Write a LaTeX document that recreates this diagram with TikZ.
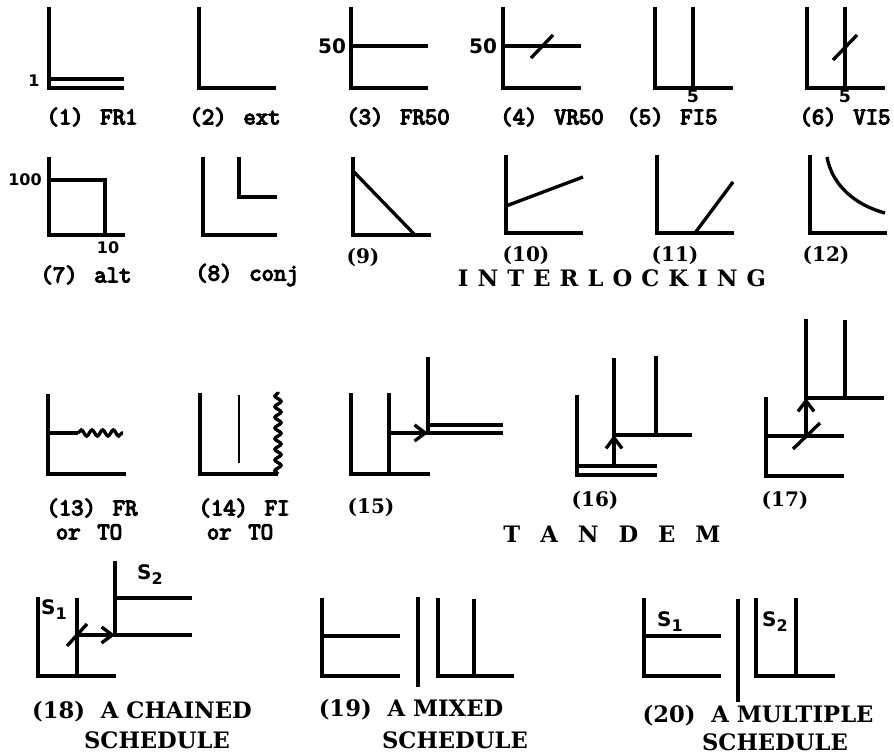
\documentclass[tikz,border=0pt]{standalone}
\usepackage{fontspec}
\setmainfont{DejaVu Serif}
\newfontfamily\twfont{Latin Modern Mono}[FakeBold=5]
\newfontfamily\numfont{DejaVu Sans}
\newfontfamily\ilfont{DejaVu Serif}[LetterSpace=40]
\usetikzlibrary{arrows.meta,decorations.pathmorphing}

\newcommand{\schsub}[1]{S\raisebox{-0.45ex}{\fontsize{12}{12}\selectfont #1}}
\newcommand{\twgap}{\hspace{0.7em}}

\begin{document}
\begin{tikzpicture}[x=0.75pt,y=-0.75pt,
    ax/.style={line width=2.5pt},
    arr/.style={-{Straight Barb[length=8pt,width=12pt]}},
    wavy/.style={decorate,decoration={snake,amplitude=2.3pt,segment length=8pt}},
    twlab/.style={inner sep=0pt,font=\twfont\fontsize{18}{20}\selectfont},
    sflab/.style={inner sep=0pt,font=\bfseries\fontsize{15}{17}\selectfont},
    caplab/.style={inner sep=0pt,font=\bfseries\fontsize{17}{20}\selectfont},
    numlab/.style={inner sep=0pt,font=\numfont\bfseries\fontsize{15}{15}\selectfont},
    smallnum/.style={inner sep=0pt,font=\numfont\bfseries\fontsize{12}{12}\selectfont}]
    \useasboundingbox (0,0) rectangle (894,755);

    % (1) FR1
    \draw[ax] (49,7) |- (124,88);
    \draw[ax] (49,79) -- (124,79);
    \node[smallnum] (t1) at (34,81) {1};
    \node[twlab] (l1) at (92,117) {(1)\twgap FR1};

    % (2) ext
    \draw[ax] (199,7) |- (276,88);
    \node[twlab] (l2) at (235,117) {(2)\twgap ext};

    % (3) FR50
    \draw[ax] (351,7) |- (428,88);
    \draw[ax] (351,46) -- (428,46);
    \node[numlab] (t3) at (332,46) {50};
    \node[twlab] (l3) at (398,117) {(3)\twgap FR50};

    % (4) VR50
    \draw[ax] (503,7) |- (581,88);
    \draw[ax] (503,46) -- (581,46);
    \draw[ax] (531,58) -- (553,35);
    \node[numlab] (t4) at (483,46) {50};
    \node[twlab] (l4) at (552,117) {(4)\twgap VR50};

    % (5) FI5
    \draw[ax] (655,7) |- (733,88);
    \draw[ax] (693,7) -- (693,88);
    \node[smallnum,font=\numfont\bfseries\fontsize{13}{13}\selectfont] (t5) at (693,96) {5};
    \node[twlab] (l5) at (672,117) {(5)\twgap FI5};

    % (6) VI5
    \draw[ax] (807,7) |- (885,88);
    \draw[ax] (845,7) -- (845,88);
    \draw[ax] (833,60) -- (857,35);
    \node[smallnum,font=\numfont\bfseries\fontsize{13}{13}\selectfont] (t6) at (845,96) {5};
    \node[twlab] (l6) at (845,117) {(6)\twgap VI5};

    % (7) alt
    \draw[ax] (49,157) |- (125,235);
    \draw[ax] (49,180) -| (105,235);
    \node[smallnum] (t7a) at (25,180) {100};
    \node[smallnum] (t7b) at (108,248) {10};
    \node[twlab] (l7) at (86,275) {(7)\twgap alt};

    % (8) conj
    \draw[ax] (203,157) |- (277,235);
    \draw[ax] (239,157) |- (277,197);
    \node[twlab] (l8) at (247,275) {(8)\twgap conj};

    % (9) - (12) interlocking
    \draw[ax] (353,157) |- (431,235);
    \draw[ax] (353,171) -- (415,235);
    \node[sflab] (l9) at (363,257) {(9)};

    \draw[ax] (506,155) |- (583,233);
    \draw[ax] (506,206) -- (583,177);
    \node[sflab] (l10) at (526,255) {(10)};

    \draw[ax] (657,155) |- (734,233);
    \draw[ax] (695,233) -- (733,182);
    \node[sflab] (l11) at (675,255) {(11)};

    \draw[ax] (810,155) |- (887,233);
    \draw[ax] (827,157) .. controls (832,185) and (855,205) .. (885,213);
    \node[sflab] (l12) at (826,255) {(12)};

    \node[caplab,font=\ilfont\bfseries\fontsize{17}{20}\selectfont] (il) at (612,278) {INTERLOCKING};

    % (13) FR or TO
    \draw[ax] (48,394) |- (126,474);
    \draw[ax] (48,433) -- (78,433);
    \draw[ax,wavy] (78,433) -- (123,433);
    \node[twlab] (l13a) at (92,508) {(13)\twgap FR};
    \node[twlab] (l13b) at (89,532) {or\twgap TO};

    % (14) FI or TO
    \draw[ax] (200,393) |- (278,474);
    \draw[line width=1.8pt] (239,395) -- (239,463);
    \draw[ax,wavy] (278,474) -- (278,392);
    \node[twlab] (l14a) at (244,508) {(14)\twgap FI};
    \node[twlab] (l14b) at (240,532) {or\twgap TO};

    % (15) - (17) tandem
    \draw[ax] (351,393) |- (430,474);
    \draw[ax] (389,393) -- (389,474);
    \coordinate (a15) at (389,433);
    \coordinate (o15) at (428,433);
    \draw[ax] (428,357) |- (503,433);
    \draw[ax] (428,425) -- (503,425);
    \draw[ax,arr] (a15) -- (o15);
    \node[sflab] (l15) at (371,507) {(15)};

    \draw[ax] (577,395) |- (657,475);
    \draw[ax] (577,466) -- (657,466);
    \coordinate (a16) at (614,466);
    \coordinate (o16) at (614,435);
    \draw[ax] (614,358) |- (692,435);
    \draw[ax] (656,356) -- (656,435);
    \draw[ax,arr] (a16) -- (o16);
    \node[sflab] (l16) at (595,500) {(16)};

    \draw[ax] (766,397) |- (844,476);
    \draw[ax] (766,436) -- (844,436);
    \draw[ax] (793,449) -- (820,423);
    \coordinate (a17) at (806,436);
    \coordinate (o17) at (806,398);
    \draw[ax] (806,319) |- (884,398);
    \draw[ax] (845,320) -- (845,398);
    \draw[ax,arr] (a17) -- (o17);
    \node[sflab] (l17) at (785,500) {(17)};

    \node[caplab] (td) at (612,534) {T\hspace{15pt}A\hspace{15pt}N\hspace{15pt}D\hspace{15pt}E\hspace{15pt}M};

    % (18) chained
    \draw[ax] (38,597) |- (116,676);
    \draw[ax] (77,598) -- (77,676);
    \draw[ax] (67,646) -- (87,624);
    \coordinate (a18) at (77,635);
    \coordinate (o18) at (115,635);
    \draw[ax] (115,561) |- (192,635);
    \draw[ax] (115,598) -- (192,598);
    \draw[ax,arr] (a18) -- (o18);
    \node[numlab] (s18a) at (54,610) {\schsub{1}};
    \node[numlab] (s18b) at (150,575) {\schsub{2}};
    \node[caplab] (l18a) at (142,712) {(18)~~A CHAINED};
    \node[caplab] (l18b) at (157,740) {SCHEDULE};

    % (19) mixed
    \draw[ax] (322,598) |- (400,676);
    \draw[ax] (322,636) -- (400,636);
    \draw[ax] (418,597) -- (418,687);
    \draw[ax] (438,598) |- (514,676);
    \draw[ax] (474,599) -- (474,676);
    \node[caplab] (l19a) at (411,710) {(19)~~A MIXED};
    \node[caplab] (l19b) at (455,740) {SCHEDULE};

    % (20) multiple
    \draw[ax] (644,598) |- (721,676);
    \draw[ax] (644,636) -- (721,636);
    \draw[ax] (738,599) -- (738,702);
    \draw[ax] (756,598) |- (835,676);
    \draw[ax] (796,598) -- (796,676);
    \node[numlab] (s20a) at (670,622) {\schsub{1}};
    \node[numlab] (s20b) at (775,622) {\schsub{2}};
    \node[caplab] (l20a) at (758,716) {(20)~~A MULTIPLE};
    \node[caplab] (l20b) at (775,742) {SCHEDULE};

\end{tikzpicture}
\end{document}
